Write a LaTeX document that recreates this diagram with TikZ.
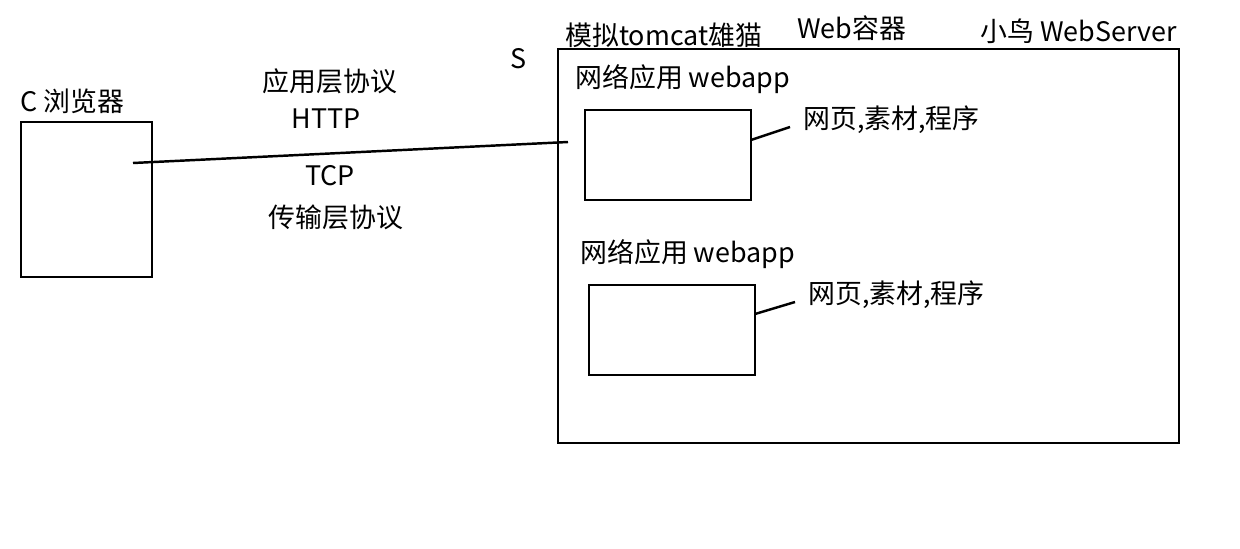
\documentclass[tikz,border=0pt]{standalone}
\usepackage{fontspec}
\setmainfont{Noto Sans CJK SC}
\begin{document}
\begin{tikzpicture}[x=0.02cm,y=-0.02cm,
  box/.style={draw=black,line width=1.4pt,inner sep=0pt},
  lbl/.style={font=\fontsize{15.3pt}{18pt}\selectfont,inner sep=0pt,anchor=west},
  clbl/.style={font=\fontsize{15.3pt}{18pt}\selectfont,inner sep=0pt},
  wire/.style={line width=1.4pt}]
\useasboundingbox (0,0) rectangle (1240,548);
% client
\draw[box] (21,122) rectangle (152,277);
\node[lbl] (clab) at (20,101) {C 浏览器};
\coordinate (cend) at (133,163);
\coordinate (send) at (568,142);
\draw[wire] (cend) -- (send);
\node[clbl] (app) at (330,81) {应用层协议};
\node[clbl] (http) at (326,119) {HTTP};
\node[clbl] (tcp) at (330,176) {TCP};
\node[clbl] (trans) at (336,217) {传输层协议};
% server
\node[clbl] (s) at (519,59) {S};
\draw[box] (558,49) rectangle (1179,443);
\node[lbl] (tom) at (565,35) {模拟tomcat雄猫};
\node[lbl] (web) at (797,28) {Web容器};
\node[lbl] (bird) at (980,31) {小鸟 WebServer};
% app 1
\node[lbl] (w1) at (575,79) {网络应用 webapp};
\draw[box] (585,110) rectangle (751,200);
\coordinate (a1) at (751,140);
\coordinate (b1) at (790,127);
\draw[wire] (a1) -- (b1);
\node[lbl] (r1) at (803,120) {网页,素材,程序};
% app 2
\node[lbl] (w2) at (580,254) {网络应用 webapp};
\draw[box] (589,285) rectangle (755,375);
\coordinate (a2) at (755,314);
\coordinate (b2) at (795,302);
\draw[wire] (a2) -- (b2);
\node[lbl] (r2) at (808,295) {网页,素材,程序};
\end{tikzpicture}
\end{document}
